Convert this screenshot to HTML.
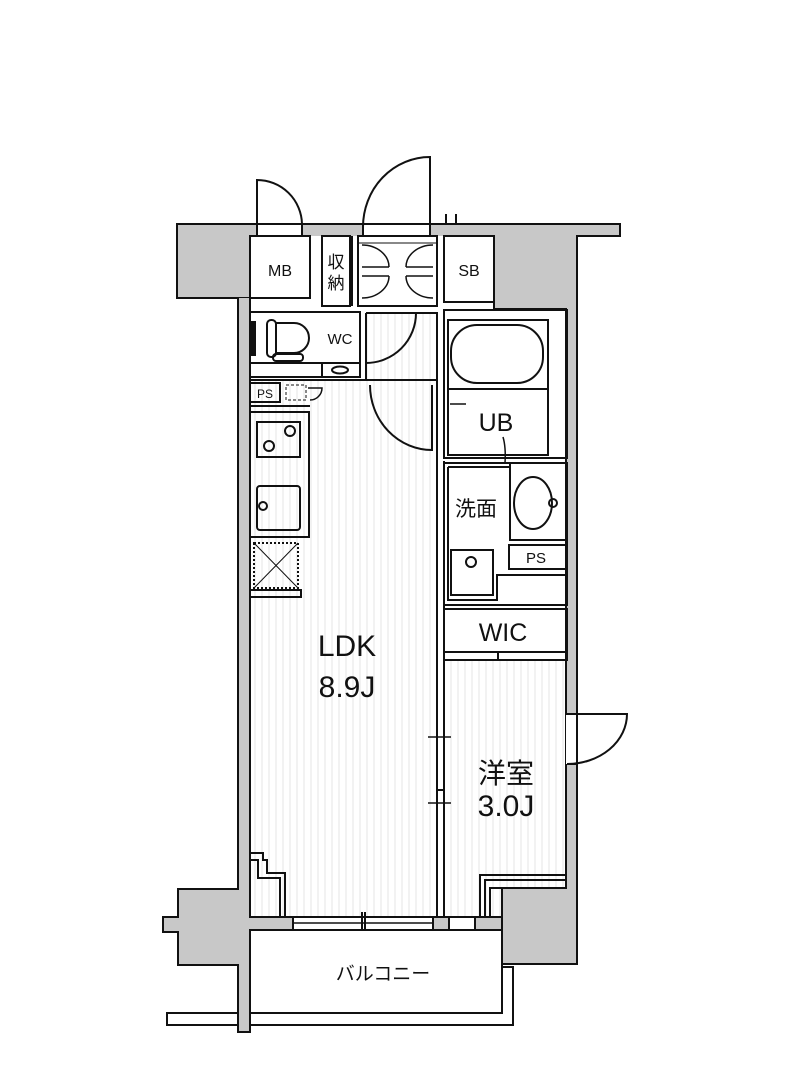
<!DOCTYPE html>
<html><head><meta charset="utf-8"><style>
html,body{margin:0;padding:0;background:#fff;}
svg{display:block;}
text{font-family:"Liberation Sans","Noto Sans CJK JP",sans-serif;fill:#111;}
</style></head><body>
<svg width="802" height="1084" viewBox="0 0 802 1084" xmlns="http://www.w3.org/2000/svg">
<defs>
<pattern id="st" width="7" height="10" patternUnits="userSpaceOnUse">
<line x1="3" y1="0" x2="3" y2="10" stroke="#e4e4e4" stroke-width="1"/>
</pattern>
</defs>
<g stroke="#111" stroke-width="2" fill="none">
<rect x="250" y="380" width="186" height="537" fill="url(#st)" stroke="none"/>
<rect x="444" y="660" width="122" height="257" fill="url(#st)" stroke="none"/>
<rect x="366" y="313" width="70" height="67" fill="url(#st)" stroke="none"/>

<path d="M177 224 H620 V236 H577 V964 H502 V888 H566 V309 H494 V236 H250 V298 H238 V224" fill="#c8c8c8" stroke="none"/>
<path d="M177 224 H250 V298 H177 Z" fill="#c8c8c8" stroke="none"/>
<path d="M250 298 H177 V224 H620 V236 H577 V964 H502 V888 H566 V309 H494 V236"/>
<path d="M238 298 V889 H178 V917 H163 V932 H178 V965 H238 V1032 H250 V930 H293 V917 H250 V298" fill="#c8c8c8"/>
<rect x="433" y="917" width="16" height="13" fill="#c8c8c8"/>
<rect x="475" y="917" width="27" height="13" fill="#c8c8c8"/>
<rect x="293" y="917" width="140" height="13" fill="#fff"/>
<line x1="293" y1="923" x2="433" y2="923" stroke-width="1.5"/>
<line x1="362" y1="912" x2="362" y2="935"/>
<line x1="365" y1="912" x2="365" y2="935"/>
<rect x="449" y="917" width="26" height="13" fill="#fff"/>
<rect x="250" y="930" width="252" height="83" fill="#fff"/>
<path d="M167 1013 H238 M250 1013 H502 V967 H513 V1025 H250 M238 1025 H167 Z"/>
<rect x="167" y="1013" width="71" height="12" fill="#fff"/>
<rect x="257" y="225" width="45" height="10" fill="#fff" stroke="none"/>
<line x1="257" y1="224" x2="257" y2="236"/><line x1="302" y1="224" x2="302" y2="236"/>
<rect x="363" y="225" width="67" height="10" fill="#fff" stroke="none"/>
<line x1="363" y1="224" x2="363" y2="236"/><line x1="430" y1="224" x2="430" y2="236"/>
<path d="M257 224 V180 A45 45 0 0 1 302 224"/>
<path d="M430 236 V157 A67 70 0 0 0 363 227 V236"/>
<path d="M446 224 V214 M456 224 V214"/>
<rect x="566" y="714" width="11" height="50" fill="#fff" stroke="none"/>
<path d="M566 714 H627 A60 50 0 0 1 567 764 H577"/>
<line x1="577" y1="714" x2="577" y2="764"/>

<rect x="250" y="236" width="60" height="62" fill="#fff"/>
<rect x="322" y="236" width="28" height="70"/>
<line x1="352" y1="236" x2="352" y2="306"/>
<rect x="358" y="236" width="79" height="70"/>
<line x1="358" y1="243" x2="437" y2="243" stroke-width="1"/>
<path d="M362 245 A27 22 0 0 1 389 267 M362 298 A27 22 0 0 0 389 276 M362 267 H389 M362 276 H389" stroke-width="1.5"/>
<path d="M433 245 A27 22 0 0 0 406 267 M433 298 A27 22 0 0 1 406 276 M406 267 H433 M406 276 H433" stroke-width="1.5"/>
<rect x="444" y="236" width="50" height="66"/>
<rect x="250" y="312" width="110" height="51"/>
<rect x="250" y="363" width="110" height="14"/>
<line x1="322" y1="363" x2="322" y2="377"/>
<ellipse cx="340" cy="370" rx="8" ry="3.5"/>
<rect x="251" y="322" width="4" height="33" fill="#111"/>
<rect x="267" y="320" width="9" height="37" rx="4"/>
<path d="M276 323 H294 A15 15 0 0 1 294 353 H276"/>
<rect x="273" y="354" width="30" height="7" rx="3"/>
<path d="M366 313 H437 V461 M366 313 V380 H437"/>
<path d="M366 313 H416 A50 50 0 0 1 366 363"/>
<path d="M432 385 V450 A62 65 0 0 1 370 385"/>
<path d="M250 380 H366"/>
<rect x="250" y="383" width="30" height="19"/>
<rect x="286" y="385" width="20" height="15" stroke-dasharray="3 2" stroke-width="1"/>
<path d="M308 388 H322 A12 12 0 0 1 310 400" stroke-width="1.5"/>
<line x1="250" y1="406" x2="310" y2="406"/>
<path d="M250 412 H309 V537 H250"/>
<rect x="257" y="422" width="43" height="35"/>
<circle cx="290" cy="431" r="5"/><circle cx="269" cy="446" r="5"/>
<rect x="257" y="486" width="43" height="44" rx="3"/>
<circle cx="263" cy="506" r="4"/>
<rect x="254" y="543" width="44" height="45" stroke-dasharray="2 2"/>
<path d="M254 543 L298 588 M298 543 L254 588" stroke-width="1"/>
<rect x="250" y="590" width="51" height="7"/>
<path d="M437 380 V917 M444 461 V917" />
<line x1="437" y1="790" x2="444" y2="790"/>
<line x1="428" y1="737" x2="451" y2="737" stroke-width="1.5"/>
<line x1="428" y1="803" x2="451" y2="803" stroke-width="1.5"/>
<rect x="444" y="310" width="123" height="148"/>
<rect x="448" y="320" width="100" height="135"/>
<rect x="451" y="325" width="92" height="58" rx="26"/>
<line x1="448" y1="389" x2="548" y2="389"/>
<path d="M450 404 H466 M503 437 Q506 447 505 463" stroke-width="1.5"/>
<rect x="444" y="463" width="123" height="142"/>
<path d="M448 467 H510 V540 M510 463 V540 H567"/>
<ellipse cx="533" cy="503" rx="19" ry="26"/>
<circle cx="553" cy="503" r="4"/>
<rect x="509" y="545" width="58" height="24"/>
<path d="M448 467 V600 H497 V575 H567"/>
<rect x="451" y="550" width="42" height="45"/>
<circle cx="471" cy="562" r="5"/>
<rect x="444" y="609" width="123" height="43"/>
<rect x="444" y="652" width="123" height="8"/>
<line x1="498" y1="652" x2="498" y2="660"/>
<path d="M250 853 H263 V860 H267 V873 H285 V917 M250 860 H258 V878 H280 V917"/>
<path d="M480 917 V875 H566 M485 917 V880 H566 M490 917 V888 H566"/>
</g>
<text x="280" y="276" font-size="16" text-anchor="middle">MB</text>
<text x="336" y="268" font-size="17" text-anchor="middle">収</text>
<text x="336" y="289" font-size="17" text-anchor="middle">納</text>
<text x="469" y="276" font-size="16" text-anchor="middle">SB</text>
<text x="340" y="344" font-size="15" text-anchor="middle">WC</text>
<text x="265" y="398" font-size="12" text-anchor="middle">PS</text>
<text x="496" y="431" font-size="25" text-anchor="middle">UB</text>
<text x="476" y="516" font-size="21" text-anchor="middle">洗面</text>
<text x="536" y="563" font-size="15" text-anchor="middle">PS</text>
<text x="503" y="641" font-size="25" text-anchor="middle">WIC</text>
<text x="347" y="656" font-size="30" text-anchor="middle">LDK</text>
<text x="347" y="697" font-size="30" text-anchor="middle">8.9J</text>
<text x="506" y="783" font-size="28" text-anchor="middle">洋室</text>
<text x="506" y="816" font-size="30" text-anchor="middle">3.0J</text>
<text x="383" y="980" font-size="19" text-anchor="middle">バルコニー</text>
</svg>
</body></html>
